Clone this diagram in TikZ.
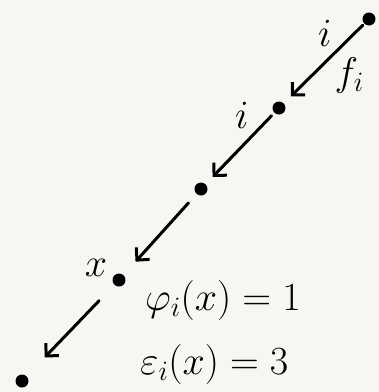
\documentclass[tikz,border=0pt]{standalone}
\usepackage{fix-cm}
\usetikzlibrary{arrows.meta, positioning}
\definecolor{paper}{HTML}{F8F6F2}
\tikzset{
  x=1pt, y=-1pt,
  >={Straight Barb[length=9pt, width=18pt, line width=3pt]},
  dotnode/.style={circle, fill=black, inner sep=0pt, minimum size=13pt},
  edge/.style={->, line width=3pt, line cap=round, draw=black},
  lbl/.style={font=\fontsize{40}{44}\selectfont, inner sep=1pt},
  eqn/.style={font=\fontsize{40}{44}\selectfont, anchor=base west, inner sep=0pt},
}
\begin{document}
\begin{tikzpicture}
  \fill[paper] (0,0) rectangle (379,392);
  \useasboundingbox (0,0) rectangle (379,392);
  \node[dotnode] (d1) at (369,19) {};
  \node[dotnode] (d2) at (279,108) {};
  \node[dotnode] (d3) at (201,189) {};
  \node[dotnode] (d4) at (119,280) {};
  \node[dotnode] (d5) at (22,381) {};
  \draw[edge, shorten <=2pt, shorten >=10pt] (d1) -- node[lbl, pos=0.35, above left=3pt]{$i$} node[lbl, pos=0.4, below right=0pt]{$f_i$} (d2);
  \draw[edge, shorten <=4pt, shorten >=10pt] (d2) -- node[lbl, pos=0.3, above left=4pt]{$i$} (d3);
  \draw[edge, shorten <=12pt, shorten >=18pt] (d3) -- (d4);
  \draw[edge, shorten <=22pt, shorten >=26pt] (d4) -- (d5);
  \node[lbl, above left=-2pt and 6pt of d4] (xlbl) {$x$};
  \node[eqn] (phi) at (145,310) {$\varphi_i(x)=1$};
  \node[eqn] (eps) at (140,374) {$\varepsilon_i(x)=3$};
\end{tikzpicture}
\end{document}
